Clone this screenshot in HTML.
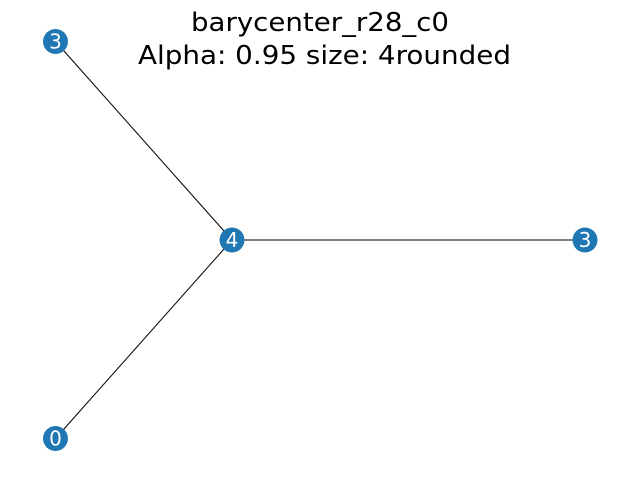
<!DOCTYPE html>
<html><head><meta charset="utf-8"><style>
html,body{margin:0;padding:0;background:#fff;}
svg{display:block;font-family:"DejaVu Sans","Liberation Sans",sans-serif;}
</style></head><body>
<svg id="chart" width="640" height="480">
<text x="320" y="31" text-anchor="middle" font-size="26" textLength="258" lengthAdjust="spacingAndGlyphs" fill="#000">barycenter_r28_c0</text>
<text x="324.5" y="64" text-anchor="middle" font-size="26" textLength="373" lengthAdjust="spacingAndGlyphs" fill="#000">Alpha: 0.95 size: 4rounded</text>
<g id="edges"></g><g id="nodes"></g>
</svg>
<script>
const nodeLabels = ["3", "4", "3", "0"];
const nodeX = [-1, 0, 2, -1];
const nodeY = [1, 0, 0, -1];
const edgeFrom = [0, 1, 1];
const edgeTo = [1, 2, 3];

function sx(v){ return 232 + 176.5 * v; }
function sy(v){ return 240 - 198.5 * v; }
const NS = "http://www.w3.org/2000/svg";
const eg = document.getElementById("edges");
const ng = document.getElementById("nodes");
for (let i = 0; i < edgeFrom.length; i++) {
  const a = edgeFrom[i], b = edgeTo[i];
  const l = document.createElementNS(NS, "line");
  l.setAttribute("x1", sx(nodeX[a])); l.setAttribute("y1", sy(nodeY[a]));
  l.setAttribute("x2", sx(nodeX[b])); l.setAttribute("y2", sy(nodeY[b]));
  l.setAttribute("stroke", "#000"); l.setAttribute("stroke-width", "1");
  
  
  eg.appendChild(l);
}
for (let i = 0; i < nodeLabels.length; i++) {
  const g = document.createElementNS(NS, "g");
  
  
  const c = document.createElementNS(NS, "circle");
  c.setAttribute("cx", sx(nodeX[i])); c.setAttribute("cy", sy(nodeY[i]));
  c.setAttribute("r", "12.5"); c.setAttribute("fill", "#1f77b4");
  
  
  const t = document.createElementNS(NS, "text");
  t.setAttribute("x", sx(nodeX[i])); t.setAttribute("y", sy(nodeY[i]) + 7);
  t.setAttribute("text-anchor", "middle"); t.setAttribute("font-size", "20");
  t.setAttribute("fill", "#fff");
  
  
  t.textContent = nodeLabels[i];
  g.appendChild(c); g.appendChild(t); ng.appendChild(g);
}
</script>
</body></html>
